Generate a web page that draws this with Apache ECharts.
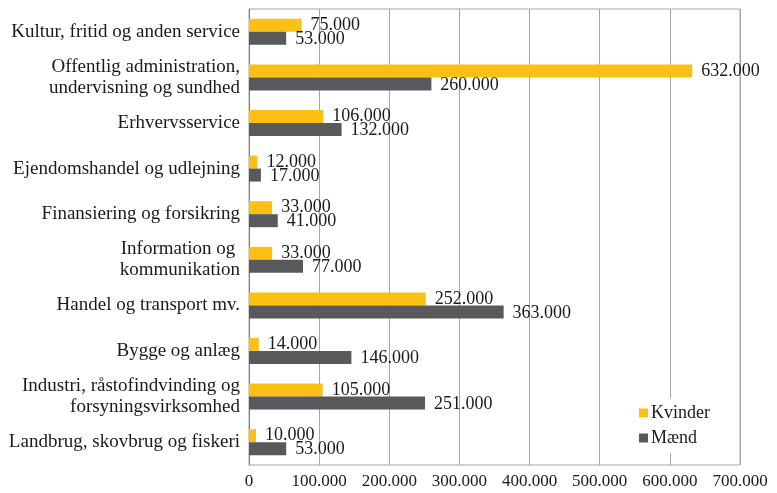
<!DOCTYPE html>
<html><head><meta charset="utf-8">
<script src="https://cdn.jsdelivr.net/npm/echarts@6/dist/echarts.min.js"></script>
<style>html,body{margin:0;padding:0;background:#fff}#c{width:777px;height:493px}</style>
</head><body><div id="c"></div>
<script>
var categories = [
  "Landbrug, skovbrug og fiskeri",
  "Industri, råstofindvinding og\nforsyningsvirksomhed",
  "Bygge og anlæg",
  "Handel og transport mv.",
  "Information og \nkommunikation",
  "Finansiering og forsikring",
  "Ejendomshandel og udlejning",
  "Erhvervsservice",
  "Offentlig administration,\nundervisning og sundhed",
  "Kultur, fritid og anden service"
];
var kvinder = [10000, 105000, 14000, 252000, 33000, 33000, 12000, 106000, 632000, 75000];
var maend   = [53000, 251000, 146000, 363000, 77000, 41000, 17000, 132000, 260000, 53000];
var xTicks = [0, 100000, 200000, 300000, 400000, 500000, 600000, 700000];

function fmt(v){ return String(v).replace(/\B(?=(\d{3})+(?!\d))/g, '.'); }
var FONT = '"Liberation Serif", "DejaVu Serif", serif';
var chart = echarts.init(document.getElementById('c'));
chart.setOption({
  animation: false,
  textStyle: { fontFamily: FONT },
  grid: { left: 249, right: 37, top: 9, bottom: 28, show: true, borderColor: '#a6a6a6', borderWidth: 1 },
  legend: {
    orient: 'vertical', left: 634, top: 398,
    backgroundColor: '#fff', padding: [6, 8, 6, 5],
    itemWidth: 9, itemHeight: 9, itemGap: 7,
    textStyle: { fontFamily: FONT, fontSize: 18, color: '#1a1a1a', padding: [0, 0, 0, -2] },
    data: [{ name: 'Kvinder', icon: 'rect' }, { name: 'Mænd', icon: 'rect' }]
  },
  xAxis: {
    type: 'value', min: xTicks[0], max: xTicks[xTicks.length - 1], interval: 100000,
    axisLine: { show: false }, axisTick: { show: false },
    splitLine: { show: true, lineStyle: { color: '#a6a6a6', width: 1 } },
    axisLabel: { fontFamily: FONT, fontSize: 17, color: '#1a1a1a', margin: 8, formatter: function(v){ return fmt(v); } }
  },
  yAxis: {
    type: 'category', data: categories,
    axisLine: { show: true, lineStyle: { color: '#808080', width: 1 } },
    axisTick: { show: false },
    axisLabel: { fontFamily: FONT, fontSize: 19, color: '#1a1a1a', margin: 9, lineHeight: 21, align: 'right' }
  },
  series: [
    { name: 'Kvinder', type: 'bar', data: kvinder, barGap: '0%', barCategoryGap: '43%',
      itemStyle: { color: '#FCBF14' },
      label: { show: true, position: 'right', distance: 9, fontFamily: FONT, fontSize: 18, color: '#1a1a1a', formatter: function(p){ return fmt(p.value); } } },
    { name: 'Mænd', type: 'bar', data: maend, barGap: '0%', barCategoryGap: '43%',
      itemStyle: { color: '#58595B' },
      label: { show: true, position: 'right', distance: 9, offset: [0, 1], fontFamily: FONT, fontSize: 18, color: '#1a1a1a', formatter: function(p){ return fmt(p.value); } } }
  ]
});
</script></body></html>
